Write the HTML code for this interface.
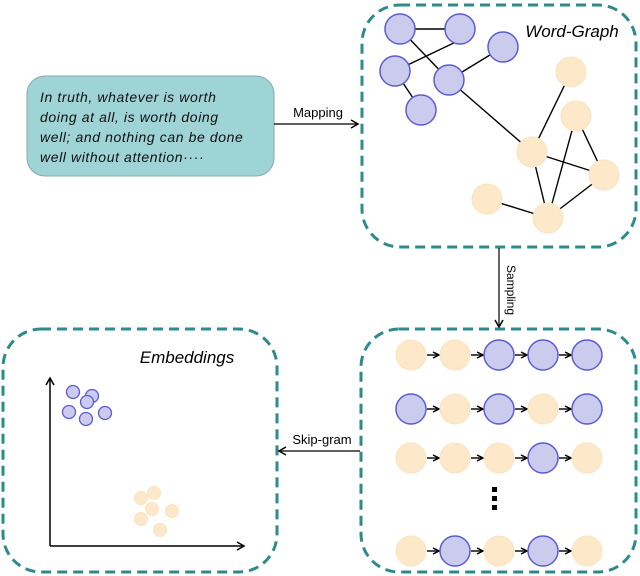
<!DOCTYPE html>
<html><head><meta charset="utf-8"><style>
html,body{margin:0;padding:0;background:#fff;width:640px;height:576px;overflow:hidden}
</style></head><body>
<svg width="640" height="576" viewBox="0 0 640 576" xmlns="http://www.w3.org/2000/svg" font-family="Liberation Sans, sans-serif">
<defs>
<marker id="ah" markerWidth="10" markerHeight="10" refX="8" refY="5" orient="auto" markerUnits="userSpaceOnUse">
<path d="M1,1 L8,5 L1,9" fill="none" stroke="#000" stroke-width="1.5"/></marker>
<marker id="sa" markerWidth="8" markerHeight="8" refX="7" refY="4" orient="auto" markerUnits="userSpaceOnUse">
<path d="M1,1 L7,4 L1,7" fill="none" stroke="#000" stroke-width="1.5"/></marker>
</defs>
<rect x="27" y="76" width="247" height="100" rx="18" fill="#9fd4d7" stroke="#8aa" stroke-width="1"/>
<g font-style="italic" font-size="14" fill="#111" letter-spacing="0.6">
<text x="40" y="102">In truth, whatever is worth</text>
<text x="40" y="122">doing at all, is worth doing</text>
<text x="40" y="142">well; and nothing can be done</text>
<text x="40" y="162">well without attention····</text>
</g>
<line x1="274" y1="124" x2="358" y2="124" stroke="#000" stroke-width="1.2" marker-end="url(#ah)"/>
<text x="318" y="117" font-size="13" text-anchor="middle">Mapping</text>
<g fill="none" stroke="#2e8b8b" stroke-width="3" stroke-dasharray="10,6">
<rect x="362" y="5" width="274" height="242" rx="38"/>
<rect x="361" y="329" width="275" height="243" rx="38"/>
<rect x="3" y="329" width="274" height="243" rx="38"/>
</g>
<text x="572" y="37" font-size="17" font-style="italic" text-anchor="middle">Word-Graph</text>
<text x="187" y="363" font-size="17" font-style="italic" text-anchor="middle">Embeddings</text>
<g stroke="#000" stroke-width="1.4">
<line x1="400" y1="29" x2="460" y2="29"/><line x1="460" y1="40" x2="395" y2="71"/>
<line x1="400" y1="29" x2="449" y2="80"/><line x1="449" y1="80" x2="503" y2="47"/>
<line x1="395" y1="71" x2="421" y2="110"/><line x1="449" y1="80" x2="532" y2="152"/>
<line x1="532" y1="152" x2="571" y2="72"/><line x1="532" y1="152" x2="604" y2="175"/>
<line x1="532" y1="152" x2="548" y2="218"/><line x1="576" y1="116" x2="548" y2="218"/>
<line x1="576" y1="116" x2="604" y2="175"/><line x1="604" y1="175" x2="548" y2="218"/>
<line x1="487" y1="199" x2="548" y2="218"/>
</g>
<g fill="#cbcbee" stroke="#5b5bd6" stroke-width="1.5">
<circle cx="400" cy="29" r="15"/><circle cx="460" cy="29" r="15"/><circle cx="395" cy="71" r="15"/>
<circle cx="449" cy="80" r="15"/><circle cx="503" cy="47" r="15"/><circle cx="421" cy="110" r="15"/>
</g>
<g fill="#fde9c9" stroke="#fbe3c0" stroke-width="1">
<circle cx="571" cy="72" r="15"/><circle cx="576" cy="116" r="15"/><circle cx="532" cy="152" r="15"/>
<circle cx="604" cy="175" r="15"/><circle cx="487" cy="199" r="15"/><circle cx="548" cy="218" r="15"/>
</g>
<line x1="499" y1="248" x2="499" y2="327" stroke="#000" stroke-width="1.2" marker-end="url(#ah)"/>
<text x="0" y="0" font-size="12" transform="translate(507,265) rotate(90)">Sampling</text>
<line x1="360" y1="451" x2="279" y2="451" stroke="#000" stroke-width="1.2" marker-end="url(#ah)"/>
<text x="322" y="444" font-size="13" text-anchor="middle">Skip-gram</text>
<g stroke="#000" stroke-width="1.4">
<line x1="427" y1="355" x2="439" y2="355" marker-end="url(#sa)"/><line x1="471" y1="355" x2="483" y2="355" marker-end="url(#sa)"/><line x1="515" y1="355" x2="527" y2="355" marker-end="url(#sa)"/><line x1="559" y1="355" x2="571" y2="355" marker-end="url(#sa)"/>
<line x1="427" y1="409" x2="439" y2="409" marker-end="url(#sa)"/><line x1="471" y1="409" x2="483" y2="409" marker-end="url(#sa)"/><line x1="515" y1="409" x2="527" y2="409" marker-end="url(#sa)"/><line x1="559" y1="409" x2="571" y2="409" marker-end="url(#sa)"/>
<line x1="427" y1="458" x2="439" y2="458" marker-end="url(#sa)"/><line x1="471" y1="458" x2="483" y2="458" marker-end="url(#sa)"/><line x1="515" y1="458" x2="527" y2="458" marker-end="url(#sa)"/><line x1="559" y1="458" x2="571" y2="458" marker-end="url(#sa)"/>
<line x1="427" y1="551" x2="439" y2="551" marker-end="url(#sa)"/><line x1="471" y1="551" x2="483" y2="551" marker-end="url(#sa)"/><line x1="515" y1="551" x2="527" y2="551" marker-end="url(#sa)"/><line x1="559" y1="551" x2="571" y2="551" marker-end="url(#sa)"/>
</g>
<g fill="#fde9c9" stroke="#fbe3c0" stroke-width="1">
<circle cx="411" cy="355" r="15"/><circle cx="455" cy="355" r="15"/>
<circle cx="455" cy="409" r="15"/><circle cx="543" cy="409" r="15"/>
<circle cx="411" cy="458" r="15"/><circle cx="455" cy="458" r="15"/><circle cx="499" cy="458" r="15"/><circle cx="587" cy="458" r="15"/>
<circle cx="411" cy="551" r="15"/><circle cx="499" cy="551" r="15"/><circle cx="587" cy="551" r="15"/>
</g>
<g fill="#cbcbee" stroke="#5b5bd6" stroke-width="1.5">
<circle cx="499" cy="355" r="15"/><circle cx="543" cy="355" r="15"/><circle cx="587" cy="355" r="15"/>
<circle cx="411" cy="409" r="15"/><circle cx="499" cy="409" r="15"/><circle cx="587" cy="409" r="15"/>
<circle cx="543" cy="458" r="15"/>
<circle cx="455" cy="551" r="15"/><circle cx="543" cy="551" r="15"/>
</g>
<g fill="#000"><rect x="492" y="487" width="5" height="5"/><rect x="492" y="496" width="5" height="5"/><rect x="492" y="505" width="5" height="5"/></g>
<line x1="50" y1="546" x2="50" y2="378" stroke="#000" stroke-width="1.5" marker-end="url(#ah)"/>
<line x1="50" y1="546" x2="244" y2="546" stroke="#000" stroke-width="1.5" marker-end="url(#ah)"/>
<g fill="#cbcbee" stroke="#5b5bd6" stroke-width="1.3">
<circle cx="73" cy="392" r="6.5"/><circle cx="92" cy="396" r="6.5"/><circle cx="87" cy="402" r="6.5"/>
<circle cx="69" cy="412" r="6.5"/><circle cx="86" cy="419" r="6.5"/><circle cx="105" cy="413" r="6.5"/>
</g>
<g fill="#fde9c9" stroke="#fbe3c0" stroke-width="1">
<circle cx="141" cy="498" r="6.5"/><circle cx="154" cy="493" r="6.5"/><circle cx="152" cy="509" r="6.5"/>
<circle cx="172" cy="511" r="6.5"/><circle cx="141" cy="519" r="6.5"/><circle cx="160" cy="530" r="6.5"/>
</g>
</svg>
</body></html>
